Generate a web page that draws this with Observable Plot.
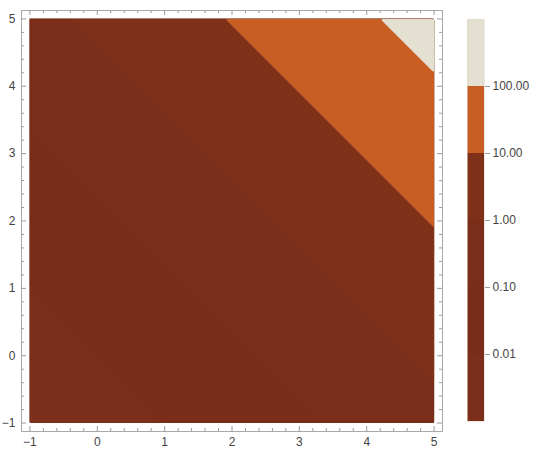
<!DOCTYPE html>
<html>
<head>
<meta charset="utf-8">
<script src="https://cdn.jsdelivr.net/npm/d3@7"></script>
<script src="https://cdn.jsdelivr.net/npm/@observablehq/plot@0.6"></script>
<style>
  html, body { margin: 0; padding: 0; background: #fff; }
  #wrap { position: relative; width: 540px; height: 460px; font-family: "Liberation Sans", Arial, sans-serif; }
  #main { position: absolute; left: 0; top: 0; }
  #legend { position: absolute; left: 450px; top: 0; }
</style>
</head>
<body>
<div id="wrap"><div id="main"></div><div id="legend"></div></div>
<script>
// Plotted region and ticks
const xRange = [-1, 5];
const yRange = [-1, 5];
const xMajor = [-1, 0, 1, 2, 3, 4, 5];
const yMajor = [-1, 0, 1, 2, 3, 4, 5];
const minorStep = 0.2;
// Contour boundaries, as values of x + y
const boundarySums = [0.0, 2.3, 4.6, 6.9, 9.2];
// Matching legend levels (contour values)
const legendLevels = [0.01, 0.1, 1, 10, 100];
const legendRange = [0.001, 1000];
// Band colours, lowest to highest
const bandColors = ["#7b2e19", "#792d18", "#7a2d18", "#7f3019", "#c85e24", "#e3e0d1"];

const xMinor = d3.range(xRange[0], xRange[1] + 1e-9, minorStep).filter(v => Math.abs(v - Math.round(v)) > 1e-6);
const yMinor = d3.range(yRange[0], yRange[1] + 1e-9, minorStep).filter(v => Math.abs(v - Math.round(v)) > 1e-6);

const W = 450, H = 460, mL = 21, mR = 8, mT = 10, mB = 29;
const pw = W - mL - mR, ph = H - mT - mB;
const pad = (xRange[1] - xRange[0]) * 0.0208;
const tickCol = "#9a9a9a";
const fmt = d => d < 0 ? "\u2212" + Math.abs(d) : String(d);

const main = Plot.plot({
  width: W, height: H,
  marginLeft: mL, marginRight: mR, marginTop: mT, marginBottom: mB,
  style: {fontFamily: "Liberation Sans, Arial, sans-serif", fontSize: "12px", color: "#444", background: "#fff"},
  x: {domain: [xRange[0] - pad, xRange[1] + pad], label: null},
  y: {domain: [yRange[0] - pad, yRange[1] + pad], label: null},
  color: {type: "threshold", domain: boundarySums, range: bandColors},
  marks: [
    Plot.rect([xRange], {x1: d => d[0], x2: d => d[1], y1: yRange[0], y2: yRange[1], fill: bandColors[1]}),
    Plot.contour({
      fill: (x, y) => x + y,
      x1: xRange[0], x2: xRange[1], y1: yRange[0], y2: yRange[1],
      thresholds: [-100, ...boundarySums],
      stroke: "none"
    }),
    Plot.frame({stroke: "#a8a8a8"}),
    Plot.tickX(xMajor, {x: d => d, insetTop: ph - 5, stroke: tickCol}),
    Plot.tickX(xMajor, {x: d => d, insetBottom: ph - 5, stroke: tickCol}),
    Plot.tickX(xMinor, {x: d => d, insetTop: ph - 3, stroke: tickCol}),
    Plot.tickX(xMinor, {x: d => d, insetBottom: ph - 3, stroke: tickCol}),
    Plot.tickY(yMajor, {y: d => d, insetRight: pw - 5, stroke: tickCol}),
    Plot.tickY(yMajor, {y: d => d, insetLeft: pw - 5, stroke: tickCol}),
    Plot.tickY(yMinor, {y: d => d, insetRight: pw - 3, stroke: tickCol}),
    Plot.tickY(yMinor, {y: d => d, insetLeft: pw - 3, stroke: tickCol}),
    Plot.axisX({ticks: xMajor, tickSize: 0, tickPadding: 6, tickFormat: fmt, label: null, fill: "#444"}),
    Plot.axisY({ticks: yMajor, tickSize: 0, tickPadding: 6, tickFormat: fmt, label: null, fill: "#444"})
  ]
});
document.getElementById("main").appendChild(main);

// Legend bar
const bounds = [legendRange[0], ...legendLevels, legendRange[1]];
const bands = bounds.slice(0, -1).map((lo, i) => ({lo, hi: bounds[i + 1], c: bandColors[i]}));
const legend = Plot.plot({
  width: 90, height: 460,
  marginLeft: 17, marginRight: 56, marginTop: 19, marginBottom: 39,
  style: {fontFamily: "Liberation Sans, Arial, sans-serif", fontSize: "12px", color: "#444", background: "#fff"},
  x: {domain: [0, 1], axis: null},
  y: {type: "log", domain: legendRange, label: null},
  marks: [
    Plot.rect(bands, {x1: 0, x2: 1, y1: "lo", y2: "hi", fill: "c"}),
    Plot.frame({stroke: "#e6d6cc", strokeWidth: 0.6}),
    Plot.axisY({anchor: "right", ticks: legendLevels, tickFormat: d3.format(".2f"), tickSize: 5, tickPadding: 3, stroke: tickCol, fill: "#444", label: null})
  ]
});
document.getElementById("legend").appendChild(legend);
</script>
</body>
</html>
